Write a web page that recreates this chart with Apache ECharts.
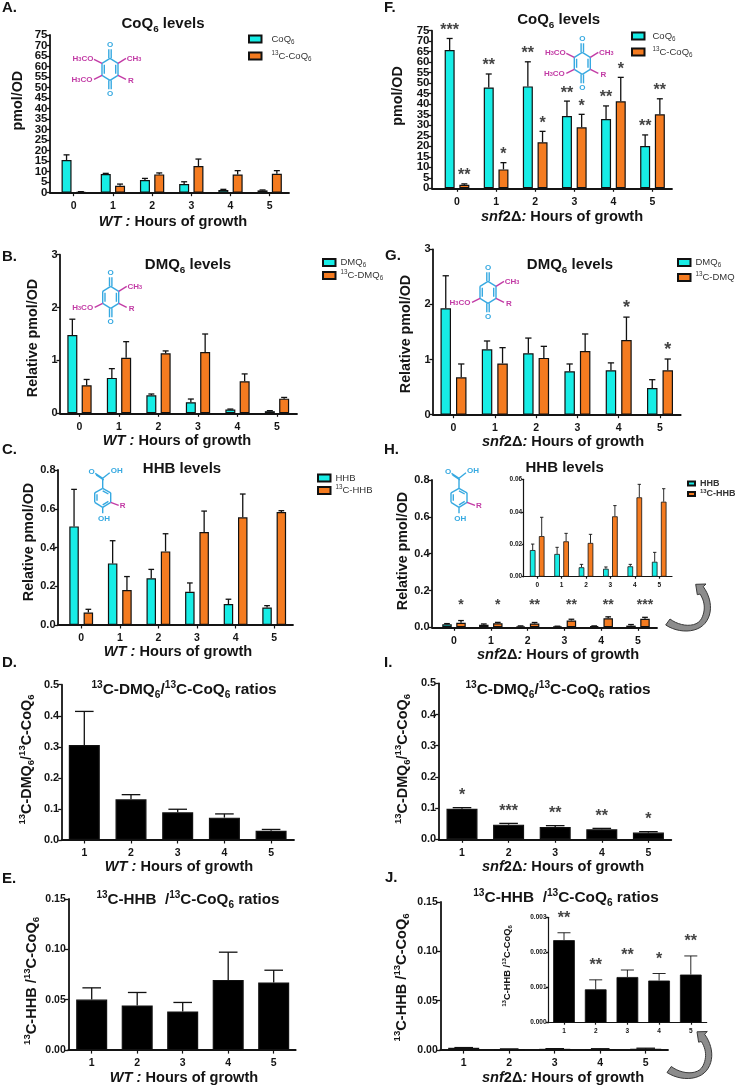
<!DOCTYPE html>
<html>
<head>
<meta charset="utf-8">
<title>CoQ6 intermediates</title>
<style>
  html, body { margin: 0; padding: 0; background: #fff; }
  #main { width: 735px; height: 1086px; }
</style>
<script src="https://cdn.jsdelivr.net/npm/echarts@6/dist/echarts.min.js"></script>
</head>
<body>
<div id="main"></div>
<script>
// hours on the x axes
var hours = [0, 1, 2, 3, 4, 5];
var ratioHours = [1, 2, 3, 4, 5];

// A: WT CoQ6 (value, then top of error bar)
var aCoq = [15.5, 8.9, 6, 4.1, 1.3, 1.1];
var aCoqTop = [18, 9.2, 6.8, 5.2, 1.6, 1.3];
var aLabeled = [0.4, 3.3, 8.7, 12.7, 8.6, 9];
var aLabeledTop = [0.5, 4.1, 9.4, 16, 10.5, 10.5];
// F: snf2 CoQ6
var fCoq = [65.8, 48, 48.5, 34.4, 33, 20.1];
var fCoqTop = [71.3, 54.4, 60.2, 41.5, 39.2, 25.4];
var fLabeled = [1.7, 9, 21.9, 29, 41.4, 35.2];
var fLabeledTop = [2.1, 12.2, 27.1, 35.2, 52.8, 42.6];
var fCoqStars = ["***", "**", "**", "**", "**", "**"];
var fLabeledStars = ["**", "*", "*", "*", "*", "**"];
// B: WT DMQ6
var bDmq = [1.48, 0.67, 0.34, 0.21, 0.07, 0.04];
var bDmqTop = [1.78, 0.845, 0.365, 0.27, 0.08, 0.05];
var bLabeled = [0.53, 1.05, 1.135, 1.16, 0.605, 0.277];
var bLabeledTop = [0.64, 1.355, 1.18, 1.5, 0.745, 0.3];
// G: snf2 DMQ6
var gDmq = [1.93, 1.186, 1.113, 0.786, 0.805, 0.484];
var gDmqTop = [2.52, 1.337, 1.39, 0.92, 0.94, 0.635];
var gLabeled = [0.678, 0.93, 1.03, 1.155, 1.355, 0.805];
var gLabeledTop = [0.92, 1.216, 1.24, 1.464, 1.77, 1.01];
var gLabeledStars = ["", "", "", "", "*", "*"];
// C: WT HHB
var cHhb = [0.509, 0.318, 0.241, 0.172, 0.108, 0.09];
var cHhbTop = [0.7, 0.435, 0.287, 0.217, 0.133, 0.1];
var cLabeled = [0.064, 0.181, 0.38, 0.48, 0.556, 0.583];
var cLabeledTop = [0.081, 0.25, 0.471, 0.588, 0.676, 0.59];
// H: snf2 HHB (main panel and inset show the same numbers)
var hHhb = [0.0164, 0.014, 0.0058, 0.0049, 0.0064, 0.0092];
var hHhbTop = [0.0201, 0.0181, 0.0076, 0.006, 0.0076, 0.015];
var hLabeled = [0.025, 0.0218, 0.0208, 0.0372, 0.0489, 0.0462];
var hLabeledTop = [0.0366, 0.0267, 0.0261, 0.0438, 0.0569, 0.0542];
var hStars = ["*", "*", "**", "**", "**", "***"];
// D, E: WT ratios
var dRatio = [0.306, 0.131, 0.089, 0.072, 0.03];
var dRatioTop = [0.414, 0.146, 0.099, 0.084, 0.034];
var eRatio = [0.0502, 0.0443, 0.0383, 0.0697, 0.0671];
var eRatioTop = [0.0618, 0.0572, 0.0473, 0.0972, 0.0793];
// I, J: snf2 ratios
var iRatio = [0.098, 0.047, 0.0395, 0.032, 0.0214];
var iRatioTop = [0.1015, 0.051, 0.0438, 0.035, 0.0246];
var iStars = ["*", "***", "**", "**", "*"];
var jRatio = [0.00235, 0.00095, 0.0013, 0.0012, 0.00137];
var jRatioTop = [0.00256, 0.00122, 0.0015, 0.0014, 0.0019];
var jStars = ["**", "**", "**", "*", "**"];

var CYAN = "#17EDE6";
var ORANGE = "#F47B20";
var INK = "#141414";
var BLUE = "#36A9E1";
var PURPLE = "#C23BA5";

// text with sub/superscripts, ^13 and _6 become rich tokens
function rt(s, key) {
  return s.replace(/\^(\d+)|_(\d+)|([^\^_]+)/g, function (m, sup, sub, plain) {
    if (sup) return "{" + key + "Sup|" + sup + "}";
    if (sub) return "{" + key + "Sub|" + sub + "}";
    return "{" + key + "|" + plain + "}";
  });
}
function richFor(key, size, weight, color, style) {
  var out = {};
  var lh = Math.round(size * 1.3);
  out[key] = { fontFamily: "Liberation Sans", fontSize: size, fontWeight: weight, color: color, lineHeight: lh, fontStyle: style || "normal" };
  out[key + "Sup"] = { fontFamily: "Liberation Sans", fontSize: size * 0.66, fontWeight: weight, color: color, lineHeight: lh, verticalAlign: "top" };
  out[key + "Sub"] = { fontFamily: "Liberation Sans", fontSize: size * 0.66, fontWeight: weight, color: color, lineHeight: lh, verticalAlign: "bottom", padding: [3, 0, 0, 0] };
  return out;
}

var wtHours = "{xi|WT :}{x| Hours of growth}";
var snfHours = "{xi|snf}{x|2\u0394}{xi|:}{x| Hours of growth}";

var panels = [
  { letter: "A.", lx: 2, ly: 8, title: "CoQ_6 levels", tx: 163, ty: 24, titleSize: 15,
    left: 50, right: 289, top: 35, bottom: 192.7, c0: 73.7, step: 39.2, w: 10, sep: 14.3,
    xs: hours, yMax: 75, interval: 5, dec: 0, tickSize: 11.5, xName: wtHours, xNameAt: [173, 222], yName: "pmol/OD", yNameAt: [18, 100.7],
    bars: [{ name: "CoQ6", color: CYAN, v: aCoq, top: aCoqTop }, { name: "13C-CoQ6", color: ORANGE, v: aLabeled, top: aLabeledTop }],
    legend: { left: 248, top: 34, gap: 5, pad: 5 } },
  { letter: "F.", lx: 384, ly: 8, title: "CoQ_6 levels", tx: 558.7, ty: 20, titleSize: 15,
    left: 432, right: 672, top: 30.7, bottom: 188.3, c0: 457, step: 39.1, w: 10, sep: 14.7,
    xs: hours, yMax: 75, interval: 5, dec: 0, tickSize: 11.5, xName: snfHours, xNameAt: [562, 217], yName: "pmol/OD", yNameAt: [398, 96],
    bars: [{ name: "CoQ6", color: CYAN, v: fCoq, top: fCoqTop, stars: fCoqStars }, { name: "13C-CoQ6", color: ORANGE, v: fLabeled, top: fLabeledTop, stars: fLabeledStars }],
    starGap: 8, starSize: 16, legend: { left: 631, top: 31, gap: 4, pad: 3 } },
  { letter: "B.", lx: 2, ly: 257, title: "DMQ_6 levels", tx: 188, ty: 265, titleSize: 15,
    left: 60, right: 297, top: 254.7, bottom: 413.3, c0: 79.5, step: 39.5, w: 10, sep: 14.3,
    xs: hours, yMax: 3, interval: 1, dec: 0, tickSize: 11, xName: wtHours, xNameAt: [177, 439], yName: "Relative pmol/OD", yNameAt: [32.7, 338],
    bars: [{ name: "DMQ6", color: CYAN, v: bDmq, top: bDmqTop }, { name: "13C-DMQ6", color: ORANGE, v: bLabeled, top: bLabeledTop }],
    legend: { left: 322, top: 257.5, gap: 1, pad: 0 } },
  { letter: "G.", lx: 385, ly: 256, title: "DMQ_6 levels", tx: 570, ty: 265, titleSize: 15,
    left: 433, right: 680.7, top: 249.3, bottom: 414.7, c0: 453.5, step: 41.3, w: 10.5, sep: 15.5,
    xs: hours, yMax: 3, interval: 1, dec: 0, tickSize: 11, xName: snfHours, xNameAt: [563, 438], yName: "Relative pmol/OD", yNameAt: [405.7, 334],
    bars: [{ name: "DMQ6", color: CYAN, v: gDmq, top: gDmqTop }, { name: "13C-DMQ6", color: ORANGE, v: gLabeled, top: gLabeledTop, stars: gLabeledStars }],
    starGap: 9, starSize: 18, legend: { left: 677, top: 257.5, gap: 3, pad: 0 } },
  { letter: "C.", lx: 2, ly: 450, title: "HHB levels", tx: 182, ty: 469, titleSize: 15,
    left: 58, right: 293, top: 470, bottom: 625, c0: 81.2, step: 38.6, w: 9.5, sep: 14.3,
    xs: hours, yMax: 0.8, interval: 0.2, dec: 1, tickSize: 11, xName: wtHours, xNameAt: [178, 648], yName: "Relative pmol/OD", yNameAt: [29, 542],
    bars: [{ name: "HHB", color: CYAN, v: cHhb, top: cHhbTop }, { name: "13C-HHB", color: ORANGE, v: cLabeled, top: cLabeledTop }],
    legend: { left: 317, top: 473, gap: 1.5, pad: 0 } },
  { letter: "H.", lx: 384, ly: 450, title: "HHB levels", tx: 564.7, ty: 468, titleSize: 15,
    left: 432, right: 657, top: 480, bottom: 627.3, c0: 454, step: 36.8, w: 9.5, sep: 14,
    xs: hours, yMax: 0.8, interval: 0.2, dec: 1, tickSize: 11, xName: snfHours, xNameAt: [558, 652], yName: "Relative pmol/OD", yNameAt: [403, 551],
    bars: [{ name: "HHB", color: CYAN, v: hHhb, top: hHhbTop }, { name: "13C-HHB", color: ORANGE, v: hLabeled, top: hLabeledTop, stars: hStars }],
    starValue: 0.118, starSize: 14, legend: { left: 687, top: 479, gap: 0, pad: 0, small: true } },
  { inset: true, left: 523.7, right: 672, top: 479.3, bottom: 576.7, c0: 537.2, step: 24.4, w: 5.6, sep: 9,
    xs: hours, yMax: 0.06, interval: 0.02, dec: 2, tickSize: 6.5,
    bars: [{ name: "HHB", color: CYAN, v: hHhb, top: hHhbTop }, { name: "13C-HHB", color: ORANGE, v: hLabeled, top: hLabeledTop }] },
  { letter: "D.", lx: 2, ly: 663, title: "^13C-DMQ_6/^13C-CoQ_6 ratios", tx: 184, ty: 690, titleSize: 15.4,
    left: 61.7, right: 294, top: 684.7, bottom: 840, c0: 84.3, step: 46.7, w: 31, sep: 0,
    xs: ratioHours, x0: 1, yMax: 0.5, interval: 0.1, dec: 1, tickSize: 11, xName: wtHours, xNameAt: [179, 867], yName: "^13C-DMQ_6/^13C-CoQ_6", yNameAt: [26.7, 759.5], ySize: 14.4,
    bars: [{ name: "13C-DMQ6/13C-CoQ6", color: "#000", v: dRatio, top: dRatioTop }] },
  { letter: "I.", lx: 384, ly: 663, title: "^13C-DMQ_6/^13C-CoQ_6 ratios", tx: 558, ty: 690, titleSize: 15.4,
    left: 438.7, right: 671.3, top: 683.3, bottom: 839.3, c0: 462, step: 46.6, w: 31, sep: 0,
    xs: ratioHours, x0: 1, yMax: 0.5, interval: 0.1, dec: 1, tickSize: 11, xName: snfHours, xNameAt: [563, 867], yName: "^13C-DMQ_6/^13C-CoQ_6", yNameAt: [403, 759], ySize: 14.4,
    bars: [{ name: "13C-DMQ6/13C-CoQ6", color: "#000", v: iRatio, top: iRatioTop, stars: iStars }],
    starGap: 12, starSize: 16 },
  { letter: "E.", lx: 2, ly: 879, title: "^13C-HHB  /^13C-CoQ_6 ratios", tx: 188, ty: 900, titleSize: 15.2,
    left: 68.3, right: 295.7, top: 899, bottom: 1050.3, c0: 91.7, step: 45.5, w: 31, sep: 0,
    xs: ratioHours, x0: 1, yMax: 0.15, interval: 0.05, dec: 2, tickSize: 10.5, xName: wtHours, xNameAt: [184, 1077], yName: "^13C-HHB /^13C-CoQ_6", yNameAt: [31.7, 981], ySize: 14.6,
    bars: [{ name: "13C-HHB/13C-CoQ6", color: "#000", v: eRatio, top: eRatioTop }] },
  { letter: "J.", lx: 385, ly: 878, title: "^13C-HHB  /^13C-CoQ_6 ratios", tx: 566, ty: 898, titleSize: 15.4,
    left: 440.3, right: 668, top: 902, bottom: 1053.3, c0: 463.7, step: 45.5, w: 31, sep: 0,
    xs: ratioHours, x0: 1, yMax: 0.15, interval: 0.05, dec: 2, tickSize: 10.5, xName: snfHours, xNameAt: [563, 1077], yName: "^13C-HHB /^13C-CoQ_6", yNameAt: [402, 979], ySize: 14.6,
    bars: [{ name: "13C-HHB/13C-CoQ6", color: "#000", v: jRatio, top: jRatioTop }] },
  { inset: true, left: 548, right: 706.7, top: 917.3, bottom: 1022.7, c0: 564, step: 31.7, w: 21.7, sep: 0,
    xs: ratioHours, x0: 1, yMax: 0.003, interval: 0.001, dec: 3, tickSize: 6.5, yName: "^13C-HHB /^13C-CoQ_6", yNameAt: [507, 966], ySize: 9.3,
    bars: [{ name: "13C-HHB/13C-CoQ6", color: "#000", v: jRatio, top: jRatioTop, stars: jStars }],
    starGap: 14, starSize: 16 }
];

var titles = [], grids = [], xAxes = [], yAxes = [], series = [], legends = [];
var endAxes = [];

function nameStyle(px, rich) {
  return { rich: rich, align: "center", verticalAlign: "middle", padding: px };
}

panels.forEach(function (p, idx) {
  var x0 = p.x0 || 0;
  var w = p.right - p.left, h = p.bottom - p.top;
  // 5-unit axes: echarts drops the label next to 0 and 75, so those two get their own axis
  var dense = p.yMax / p.interval > 10;
  if (p.letter) {
    titles.push({ text: p.letter, left: p.lx, top: p.ly, padding: 0, textVerticalAlign: "middle", textStyle: { fontFamily: "Liberation Sans", fontSize: 15, fontWeight: "bold", color: INK } });
    titles.push({ text: rt(p.title, "t"), left: p.tx, top: p.ty, padding: 0, textAlign: "center", textVerticalAlign: "middle", textStyle: { rich: richFor("t", p.titleSize, "bold", INK) } });
  }
  grids.push({ left: p.left, top: p.top, width: w, height: h, containLabel: false });

  var xOpt = {
    type: "value", gridIndex: idx,
    min: x0 + (p.left - p.c0) / p.step, max: x0 + (p.right - p.c0) / p.step,
    splitLine: { show: false },
    axisLine: { onZero: false, lineStyle: { color: INK, width: p.inset ? 1.2 : 1.8 } },
    axisTick: { customValues: p.xs, length: p.inset ? 2 : 3.5, lineStyle: { color: INK, width: 1.2 } },
    axisLabel: { customValues: p.xs, margin: p.inset ? 5 : 8, fontFamily: "Liberation Sans", fontWeight: "bold", fontSize: p.inset ? 6.5 : 10.5, color: INK, formatter: function (v) { return String(v); } }
  };
  if (p.xName) {
    var dx = p.xNameAt[0] - (p.left + p.right) / 2;
    xOpt.name = p.xName;
    xOpt.nameLocation = "middle";
    xOpt.nameGap = p.xNameAt[1] - p.bottom;
    xOpt.nameTextStyle = nameStyle(dx > 0 ? [0, 0, 0, 2 * dx] : [0, -2 * dx, 0, 0], Object.assign(richFor("x", 14.6, "bold", INK), { xi: { fontFamily: "Liberation Sans", fontSize: 14.6, fontWeight: "bold", fontStyle: "italic", color: INK, lineHeight: 18 } }));
  }
  xAxes.push(xOpt);

  var labelBase = { margin: p.inset ? 1.5 : 2.5, hideOverlap: false, fontFamily: "Liberation Sans", fontWeight: "bold", fontSize: p.tickSize, color: INK, formatter: function (v) { return v.toFixed(p.dec); } };
  var tickBase = { show: true, length: p.inset ? 2 : 3.5, lineStyle: { color: INK, width: 1.3 } };
  var yOpt = {
    type: "value", gridIndex: idx, position: "left", min: 0, max: p.yMax, interval: p.interval,
    splitLine: { show: false },
    axisLine: { show: true, onZero: false, lineStyle: { color: INK, width: p.inset ? 1.2 : 1.8 } },
    axisTick: tickBase,
    axisLabel: Object.assign({}, labelBase, { showMinLabel: !dense, showMaxLabel: !dense })
  };
  if (dense) {
    endAxes.push({
      type: "value", gridIndex: idx, position: "left", min: 0, max: p.yMax, interval: p.yMax,
      splitLine: { show: false },
      axisLine: { show: false, onZero: false },
      axisTick: tickBase,
      axisLabel: labelBase
    });
  }
  if (p.yName) {
    var dy = (p.top + p.bottom) / 2 - p.yNameAt[1];
    var size = p.ySize || 14.3;
    yOpt.name = rt(p.yName, "y");
    yOpt.nameLocation = "middle";
    yOpt.nameRotate = 90;
    yOpt.nameGap = p.left - p.yNameAt[0];
    yOpt.nameTextStyle = nameStyle(dy > 0 ? [0, 0, 0, 2 * dy] : [0, -2 * dy, 0, 0], richFor("y", size, "bold", INK));
  }
  yAxes.push(yOpt);

  var two = p.bars.length === 2;
  p.bars.forEach(function (b, k) {
    series.push({
      type: "bar", name: b.name, xAxisIndex: idx, yAxisIndex: idx,
      barWidth: p.w, barGap: two ? ((p.sep - p.w) / p.w * 100) + "%" : 0,
      itemStyle: { color: b.color, borderColor: "#111", borderWidth: p.inset ? 0.8 : 1.2 },
      emphasis: { disabled: true },
      data: p.xs.map(function (x, i) { return [x, b.v[i]]; })
    });
    var shift = two ? (k === 0 ? -p.sep / 2 : p.sep / 2) : 0;
    var capHalf = p.w * 0.3;
    series.push({
      type: "custom", name: b.name + " SD", xAxisIndex: idx, yAxisIndex: idx, z: 1, silent: true, clip: false,
      encode: { x: 0, y: 1 },
      data: p.xs.map(function (x, i) { return [x, b.top[i], b.v[i]]; }),
      renderItem: function (params, api) {
        var t = api.coord([api.value(0), api.value(1)]);
        var base = api.coord([api.value(0), api.value(2)]);
        var cx = t[0] + shift;
        var st = { stroke: "#111", lineWidth: p.inset ? 0.9 : 1.3 };
        var kids = [
          { type: "line", shape: { x1: cx, y1: base[1], x2: cx, y2: t[1] }, style: st },
          { type: "line", shape: { x1: cx - capHalf, y1: t[1], x2: cx + capHalf, y2: t[1] }, style: st }
        ];
        var star = b.stars && b.stars[params.dataIndex];
        if (star) {
          var sy = p.starValue ? api.coord([api.value(0), p.starValue])[1] : t[1] - p.starGap;
          kids.push({ type: "text", style: { text: star, x: cx, y: sy, align: "center", verticalAlign: "middle", fontFamily: "Liberation Sans", fontWeight: "bold", fontSize: p.starSize, fill: "#444" } });
        }
        return { type: "group", children: kids };
      }
    });
  });

  if (p.legend) {
    var font = p.legend.small ? 9 : 9.5;
    legends.push({
      orient: "vertical", left: p.legend.left, top: p.legend.top, padding: 0, itemGap: p.legend.gap, icon: "rect",
      itemWidth: p.legend.small ? 7 : 12.5, itemHeight: p.legend.small ? 4 : 7, selectedMode: false,
      data: p.bars.map(function (b) { return b.name; }),
      formatter: function (n) { return rt(n.replace(/^13/, "^13").replace(/6$/, "_6"), "l"); },
      textStyle: { padding: [0, 0, 0, p.legend.pad], rich: richFor("l", font, p.legend.small ? "bold" : "normal", "#333") }
    });
  }
});
yAxes = yAxes.concat(endAxes);

// chemical structures and curved arrows, not data
var gfx = [];
function seg(ox, oy, a, b, c, d, col) {
  gfx.push({ type: "line", silent: true, shape: { x1: ox + a, y1: oy + b, x2: ox + c, y2: oy + d }, style: { stroke: col, lineWidth: 1.4 } });
}
function lab(ox, oy, a, b, text, col) {
  var rich = {
    n: { fontFamily: "Liberation Sans", fontSize: 8, fontWeight: "bold", fill: col, color: col, lineHeight: 9 },
    s: { fontFamily: "Liberation Sans", fontSize: 5.5, fontWeight: "bold", fill: col, color: col, lineHeight: 9, verticalAlign: "bottom" }
  };
  gfx.push({ type: "text", silent: true, style: { text: text, rich: rich, x: ox + a, y: oy + b, align: "center", verticalAlign: "middle" } });
}
function quinone(x, y, two) {
  var pts = [[0, -11], [8, -6], [8, 6], [0, 11], [-8, 6], [-8, -6]];
  for (var i = 0; i < 6; i++) {
    seg(x, y, pts[i][0], pts[i][1], pts[(i + 1) % 6][0], pts[(i + 1) % 6][1], BLUE);
  }
  seg(x, y, 5.7, -4.5, 5.7, 4.5, BLUE);
  seg(x, y, -5.7, -4.5, -5.7, 4.5, BLUE);
  seg(x, y, -1.2, -11, -1.2, -20, BLUE);
  seg(x, y, 1.2, -11, 1.2, -20, BLUE);
  seg(x, y, -1.2, 11, -1.2, 20, BLUE);
  seg(x, y, 1.2, 11, 1.2, 20, BLUE);
  lab(x, y, 0, -24.5, "{n|O}", BLUE);
  lab(x, y, 0, 24, "{n|O}", BLUE);
  seg(x, y, 8, -6, 16, -11, PURPLE);
  seg(x, y, 8, 6, 16, 10, PURPLE);
  seg(x, y, -8, 6, -16, 10, PURPLE);
  lab(x, y, 24, -11, "{n|CH}{s|3}", PURPLE);
  lab(x, y, 21, 11, "{n|R}", PURPLE);
  lab(x, y, -28, 10, "{n|H}{s|3}{n|CO}", PURPLE);
  if (two) {
    seg(x, y, -8, -6, -16, -10, PURPLE);
    lab(x, y, -27, -11, "{n|H}{s|3}{n|CO}", PURPLE);
  }
}
function hhb(x, y) {
  var pts = [[0, -9], [8, -4.5], [8, 5], [0, 10], [-8, 5], [-8, -4.5]];
  for (var i = 0; i < 6; i++) {
    seg(x, y, pts[i][0], pts[i][1], pts[(i + 1) % 6][0], pts[(i + 1) % 6][1], BLUE);
  }
  seg(x, y, -5.7, -3, -5.7, 3.5, BLUE);
  seg(x, y, 0, -6.5, 5.7, -3.3, BLUE);
  seg(x, y, 0, 7.5, 5.7, 4, BLUE);
  seg(x, y, 0, -9, 0, -19, BLUE);
  seg(x, y, 0, -19, -7.5, -24, BLUE);
  seg(x, y, 1, -17.5, -6.5, -22.5, BLUE);
  seg(x, y, 0, -19, 7, -24.5, BLUE);
  seg(x, y, 0, 10, 0, 16, BLUE);
  seg(x, y, 8, 5, 16, 8, PURPLE);
  lab(x, y, -11, -25.7, "{n|O}", BLUE);
  lab(x, y, 14, -26.3, "{n|OH}", BLUE);
  lab(x, y, 1.3, 21, "{n|OH}", BLUE);
  lab(x, y, 20, 8.7, "{n|R}", PURPLE);
}
quinone(110, 69.3, true);
quinone(582.3, 63.3, true);
quinone(110.7, 297.3, false);
quinone(488, 292.3, false);
hhb(102.7, 497.3);
hhb(459, 497.3);

// curved arrow outline, walked from a few bezier pieces
function curve(out, p0, p1, p2, p3) {
  for (var k = 1; k <= 12; k++) {
    var t = k / 12, u = 1 - t;
    out.push([
      u * u * u * p0[0] + 3 * u * u * t * p1[0] + 3 * u * t * t * p2[0] + t * t * t * p3[0],
      u * u * u * p0[1] + 3 * u * u * t * p1[1] + 3 * u * t * t * p2[1] + t * t * t * p3[1]
    ]);
  }
}
function arrowPoints() {
  var a = [[15.7, 55], [20, 49]];
  curve(a, [20, 49], [30, 56.7], [46.7, 58.3], [51.7, 48.3]);
  curve(a, [51.7, 48.3], [55.7, 40], [55, 31.7], [50, 24]);
  a.push([47.3, 24.7], [45.7, 14.3], [56, 14], [53.3, 16.7]);
  curve(a, [53.3, 16.7], [61.7, 28.3], [63.3, 43.3], [55, 53.3]);
  curve(a, [55, 53.3], [46.7, 63.3], [28.3, 63.3], [15.7, 55]);
  return a;
}
[[650, 570], [651.3, 1017.5]].forEach(function (pos) {
  gfx.push({ type: "polygon", silent: true, x: pos[0], y: pos[1], shape: { points: arrowPoints() }, style: { fill: "#8c8c8c", stroke: "#3a3a3a", lineWidth: 1 } });
});

var chart = echarts.init(document.getElementById("main"), null, { renderer: "canvas" });
chart.setOption({
  animation: false,
  backgroundColor: "#fff",
  title: titles,
  legend: legends,
  grid: grids,
  xAxis: xAxes,
  yAxis: yAxes,
  series: series,
  graphic: { elements: gfx }
});
</script>
</body>
</html>
